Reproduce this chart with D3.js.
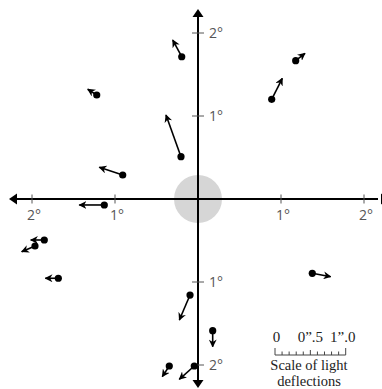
<!DOCTYPE html>
<html>
<head>
<meta charset="utf-8">
<script src="https://cdn.jsdelivr.net/npm/d3@7"></script>
<style>
  html, body { margin: 0; padding: 0; background: #fff; }
  svg { display: block; }
</style>
</head>
<body>
<div id="chart"></div>
<script>
// vars
let w = 382, h = 389;

// star positions (degrees from sun centre) and measured shifts (arcsec)
let starX = [-0.196, -1.220, 1.177, 0.888, -0.205, -0.907, -1.129, -1.852, -1.964, -1.683, 1.377, -0.096, 0.177, -0.346, -0.045];
let starY = [1.714, 1.253, 1.666, 1.201, 0.510, 0.289, -0.072, -0.494, -0.566, -0.955, -0.895, -1.157, -1.587, -2.012, -2.012];
let shiftX = [-0.127, -0.127, 0.132, 0.150, -0.212, -0.331, -0.354, -0.192, -0.188, -0.184, 0.260, -0.151, 0, -0.099, -0.212];
let shiftY = [0.236, 0.081, 0.105, 0.297, 0.590, 0.109, 0, 0, -0.081, 0, -0.048, -0.354, -0.226, -0.151, -0.188];

let axisTicks = [-2, -1, 1, 2];
let scaleTicks = [0, 0.1, 0.2, 0.3, 0.4, 0.5, 0.6, 0.7, 0.8, 0.9, 1.0];
let scaleLabels = [{v: 0, t: "0"}, {v: 0.5, t: "0\u201d.5"}, {v: 1.0, t: "1\u201d.0"}];

// scales
let x = d3.scaleLinear().domain([-2, 2]).range([32, 364]);
let y = d3.scaleLinear().domain([-2, 2]).range([365, 33]);
let arc = d3.scaleLinear().domain([0, 1]).range([0, 70.7]); // arcsec -> px

let svg = d3.select("#chart")
  .append("svg")
  .attr("width", w)
  .attr("height", h)
  .attr("viewBox", "0 0 " + w + " " + h);

svg.append("defs").append("marker")
  .attr("id", "head")
  .attr("viewBox", "0 0 10 10")
  .attr("refX", 9)
  .attr("refY", 5)
  .attr("markerWidth", 5)
  .attr("markerHeight", 5)
  .attr("markerUnits", "strokeWidth")
  .attr("orient", "auto")
  .append("path")
  .attr("d", "M0,0 L10,5 L0,10 L3,5 Z")
  .attr("fill", "#000");

// sun
svg.append("circle")
  .attr("cx", x(0))
  .attr("cy", y(0))
  .attr("r", 24)
  .attr("fill", "#d6d6d6");

// axes
let axisGrp = svg.append("g");
axisGrp.append("line")
  .attr("x1", 14).attr("x2", 378)
  .attr("y1", y(0)).attr("y2", y(0))
  .attr("stroke", "#000").attr("stroke-width", 2);
axisGrp.append("line")
  .attr("x1", x(0)).attr("x2", x(0))
  .attr("y1", 14).attr("y2", 383)
  .attr("stroke", "#000").attr("stroke-width", 2);

let cx = x(0), cy = y(0);
let heads = [
  [[9, cy], [17, cy - 5.5], [17, cy + 5.5]],
  [[389, cy], [381, cy - 5.5], [381, cy + 5.5]],
  [[cx, 9], [cx - 5.5, 17], [cx + 5.5, 17]],
  [[cx, 388], [cx - 5.5, 380], [cx + 5.5, 380]]
];
axisGrp.selectAll("path.head").data(heads).join("path")
  .attr("class", "head")
  .attr("d", d => "M" + d.join("L") + "Z")
  .attr("fill", "#000");

// ticks
axisGrp.selectAll("line.xt").data(axisTicks).join("line")
  .attr("class", "xt")
  .attr("x1", d => x(d)).attr("x2", d => x(d))
  .attr("y1", cy - 4.5).attr("y2", cy + 4.5)
  .attr("stroke", "#555").attr("stroke-width", 1);
axisGrp.selectAll("line.yt").data(axisTicks).join("line")
  .attr("class", "yt")
  .attr("x1", cx - 6).attr("x2", cx + 6)
  .attr("y1", d => y(d)).attr("y2", d => y(d))
  .attr("stroke", "#555").attr("stroke-width", 1);

axisGrp.selectAll("text.xl").data(axisTicks).join("text")
  .attr("class", "xl")
  .attr("x", d => x(d) + 2)
  .attr("y", cy + 21)
  .attr("text-anchor", "middle")
  .style("font-family", "'Open Sans', sans-serif")
  .style("font-size", "14px")
  .style("fill", "#555")
  .text(d => Math.abs(d) + "\u00b0");
axisGrp.selectAll("text.yl").data(axisTicks).join("text")
  .attr("class", "yl")
  .attr("x", cx + 11)
  .attr("y", d => y(d) + 5)
  .attr("text-anchor", "start")
  .style("font-family", "'Open Sans', sans-serif")
  .style("font-size", "14px")
  .style("fill", "#555")
  .text(d => Math.abs(d) + "\u00b0");

// stars and deflections
let idx = d3.range(starX.length);
let starGrp = svg.append("g");
starGrp.selectAll("line").data(idx).join("line")
  .attr("x1", i => x(starX[i]))
  .attr("y1", i => y(starY[i]))
  .attr("x2", i => x(starX[i]) + arc(shiftX[i]))
  .attr("y2", i => y(starY[i]) - arc(shiftY[i]))
  .attr("stroke", "#000")
  .attr("stroke-width", 1.6)
  .attr("marker-end", "url(#head)");
starGrp.selectAll("circle").data(idx).join("circle")
  .attr("cx", i => x(starX[i]))
  .attr("cy", i => y(starY[i]))
  .attr("r", 3.6)
  .attr("fill", "#000");

// scale of light deflections
let sx = 275, sy = 355;
let scaleGrp = svg.append("g");
scaleGrp.append("line")
  .attr("x1", sx).attr("x2", sx + arc(1))
  .attr("y1", sy).attr("y2", sy)
  .attr("stroke", "#444").attr("stroke-width", 1);
scaleGrp.selectAll("line.st").data(scaleTicks).join("line")
  .attr("class", "st")
  .attr("x1", d => sx + arc(d)).attr("x2", d => sx + arc(d))
  .attr("y1", sy)
  .attr("y2", (d, i) => (i === 0 || i === 10) ? sy - 7 : (i === 5 ? sy - 5 : sy - 3.5))
  .attr("stroke", "#444").attr("stroke-width", 1);
scaleGrp.selectAll("text.sl").data(scaleLabels).join("text")
  .attr("class", "sl")
  .attr("x", (d, i) => sx + arc(d.v) + (i === 0 ? 1.5 : (i === 2 ? -3 : 0)))
  .attr("y", 342)
  .attr("text-anchor", "middle")
  .style("font-family", "'Liberation Serif', serif")
  .style("font-size", "15px")
  .style("fill", "#222")
  .text(d => d.t);
scaleGrp.selectAll("text.cap").data(["Scale of light", "deflections"]).join("text")
  .attr("class", "cap")
  .attr("x", 309)
  .attr("y", (d, i) => 370 + i * 16)
  .attr("text-anchor", "middle")
  .style("font-family", "'Liberation Serif', serif")
  .style("font-size", "14.5px")
  .style("fill", "#222")
  .text(d => d);
</script>
</body>
</html>
